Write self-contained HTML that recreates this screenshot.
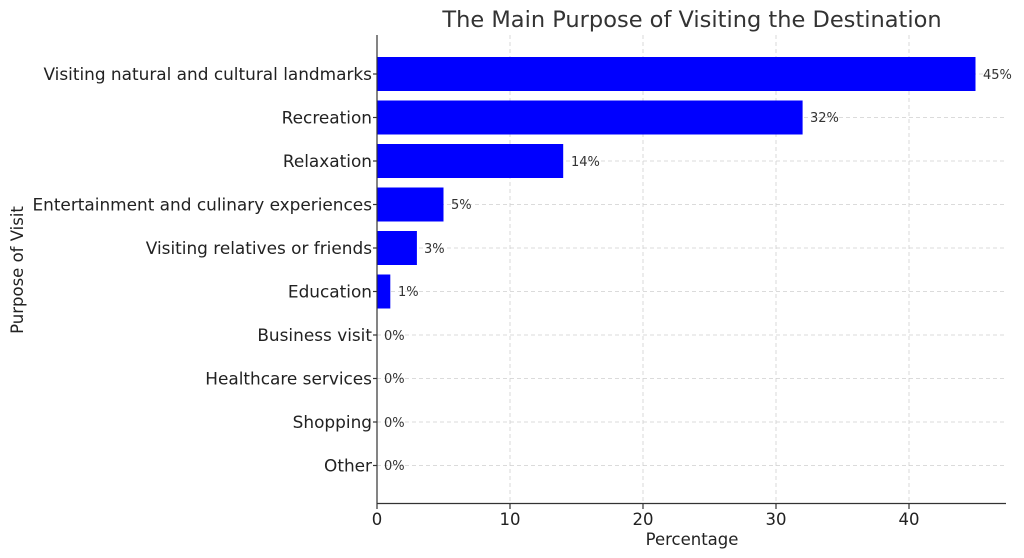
<!DOCTYPE html>
<html><head><meta charset="utf-8"><style>
body{margin:0;background:#fff;}
svg{display:block;font-family:"DejaVu Sans","Liberation Sans",sans-serif;}
</style></head><body>
<svg width="1024" height="558" xmlns="http://www.w3.org/2000/svg">
<rect width="1024" height="558" fill="#fff"/>
<text x="692" y="27" font-size="22.5" fill="#333" text-anchor="middle">The Main Purpose of Visiting the Destination</text>
<g stroke="#d0d0d0" stroke-dasharray="4,3" stroke-width="0.8">
<line x1="510" y1="35" x2="510" y2="503"/><line x1="643" y1="35" x2="643" y2="503"/>
<line x1="776" y1="35" x2="776" y2="503"/><line x1="909" y1="35" x2="909" y2="503"/>
<line x1="377" y1="74" x2="1006" y2="74"/><line x1="377" y1="117.5" x2="1006" y2="117.5"/>
<line x1="377" y1="161" x2="1006" y2="161"/><line x1="377" y1="204.5" x2="1006" y2="204.5"/>
<line x1="377" y1="248" x2="1006" y2="248"/><line x1="377" y1="291.5" x2="1006" y2="291.5"/>
<line x1="377" y1="335" x2="1006" y2="335"/><line x1="377" y1="378.5" x2="1006" y2="378.5"/>
<line x1="377" y1="422" x2="1006" y2="422"/><line x1="377" y1="465.5" x2="1006" y2="465.5"/>
</g>
<g fill="#0000ff">
<rect x="377" y="57" width="598.5" height="34"/>
<rect x="377" y="100.5" width="425.6" height="34"/>
<rect x="377" y="144" width="186.2" height="34"/>
<rect x="377" y="187.5" width="66.5" height="34"/>
<rect x="377" y="231" width="39.9" height="34"/>
<rect x="377" y="274.5" width="13.3" height="34"/>
</g>
<g font-size="13" fill="#333">
<text x="983" y="79">45%</text><text x="810" y="122">32%</text><text x="571" y="166">14%</text>
<text x="451" y="209">5%</text><text x="424" y="253">3%</text><text x="398" y="296">1%</text>
<text x="384" y="340">0%</text><text x="384" y="383">0%</text><text x="384" y="427">0%</text><text x="384" y="470">0%</text>
</g>
<g stroke="#333" stroke-width="1.2">
<line x1="377" y1="35" x2="377" y2="504"/><line x1="376.5" y1="503.5" x2="1006" y2="503.5"/>
<line x1="377" y1="504" x2="377" y2="509"/><line x1="510" y1="504" x2="510" y2="509"/>
<line x1="643" y1="504" x2="643" y2="509"/><line x1="776" y1="504" x2="776" y2="509"/>
<line x1="909" y1="504" x2="909" y2="509"/>
<line x1="373" y1="74" x2="377" y2="74"/><line x1="373" y1="117.5" x2="377" y2="117.5"/>
<line x1="373" y1="161" x2="377" y2="161"/><line x1="373" y1="204.5" x2="377" y2="204.5"/>
<line x1="373" y1="248" x2="377" y2="248"/><line x1="373" y1="291.5" x2="377" y2="291.5"/>
<line x1="373" y1="335" x2="377" y2="335"/><line x1="373" y1="378.5" x2="377" y2="378.5"/>
<line x1="373" y1="422" x2="377" y2="422"/><line x1="373" y1="465.5" x2="377" y2="465.5"/>
</g>
<g font-size="16.5" fill="#222" text-anchor="middle">
<text x="377" y="525">0</text><text x="510" y="525">10</text><text x="643" y="525">20</text>
<text x="776" y="525">30</text><text x="909" y="525">40</text>
</g>
<text x="692" y="545" font-size="16.5" fill="#222" text-anchor="middle">Percentage</text>
<g font-size="16.9" fill="#222" text-anchor="end">
<text x="372" y="80">Visiting natural and cultural landmarks</text>
<text x="372" y="123.5">Recreation</text>
<text x="372" y="167">Relaxation</text>
<text x="372" y="210.5">Entertainment and culinary experiences</text>
<text x="372" y="254">Visiting relatives or friends</text>
<text x="372" y="297.5">Education</text>
<text x="372" y="341">Business visit</text>
<text x="372" y="384.5">Healthcare services</text>
<text x="372" y="428">Shopping</text>
<text x="372" y="471.5">Other</text>
</g>
<text transform="translate(23,270) rotate(-90)" font-size="16.5" fill="#222" text-anchor="middle">Purpose of Visit</text>
</svg>
</body></html>
